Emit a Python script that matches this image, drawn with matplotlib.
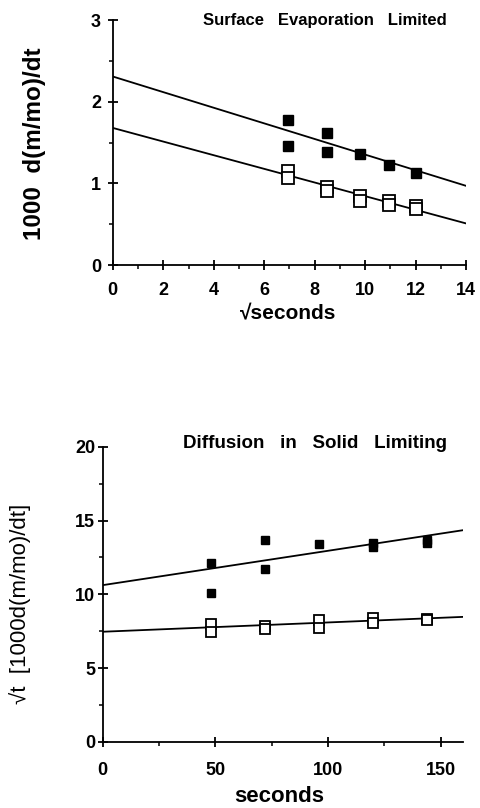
import numpy as np
import matplotlib.pyplot as plt
from matplotlib.ticker import MultipleLocator

plt.rcParams['font.family'] = ['Liberation Sans', 'DejaVu Sans']

# surface evaporation data, plotted against sqrt(seconds)
sqrt_t_filled = [6.93, 6.93, 8.49, 8.49, 9.80, 10.95, 12.0]
rate_filled = [1.78, 1.46, 1.62, 1.38, 1.36, 1.23, 1.13]
sqrt_t_open = [6.93, 6.93, 8.49, 8.49, 9.80, 9.80, 10.95, 10.95, 12.0, 12.0]
rate_open = [1.15, 1.07, 0.95, 0.91, 0.85, 0.79, 0.79, 0.74, 0.72, 0.69]
surf_fits = [(2.31, -0.0957), (1.68, -0.0836)]  # (intercept, slope)

# diffusion data, plotted against seconds
t_filled = [48, 48, 72, 72, 96, 120, 120, 144, 144]
diff_filled = [12.1, 10.1, 13.65, 11.7, 13.4, 13.45, 13.2, 13.7, 13.5]
t_open = [48, 48, 72, 72, 96, 96, 120, 120, 144, 144]
diff_open = [8.0, 7.45, 7.85, 7.62, 8.25, 7.7, 8.36, 8.05, 8.34, 8.25]
diff_fits = [(10.62, 0.0233), (7.46, 0.0063)]

fig = plt.figure(figsize=(4.8, 8.08), dpi=100)
ax1 = fig.add_axes([0.235, 0.672, 0.736, 0.303])
ax2 = fig.add_axes([0.214, 0.082, 0.751, 0.365])


def style_axes(ax, xpad, ypad):
    for s in ('top', 'right'):
        ax.spines[s].set_visible(False)
    for s in ('left', 'bottom'):
        ax.spines[s].set_linewidth(1.3)
    ax.tick_params(which='major', direction='inout', length=7, width=1.3,
                   labelsize=13)
    ax.tick_params(axis='x', which='major', pad=xpad)
    ax.tick_params(axis='y', which='major', pad=ypad)
    ax.tick_params(which='minor', direction='out', length=3, width=1.1)
    for lab in ax.get_xticklabels() + ax.get_yticklabels():
        lab.set_fontweight('bold')


# top panel
xs = np.array([0, 14])
for b, m in surf_fits:
    ax1.plot(xs, b + m * xs, color='black', lw=1.3)
ax1.plot(sqrt_t_filled, rate_filled, 's', color='black', ms=6.5, ls='none')
ax1.plot(sqrt_t_open, rate_open, 's', mfc='white', mec='black', mew=1.3,
         ms=8, ls='none')
ax1.set_xlim(0, 14)
ax1.set_ylim(0, 3)
ax1.xaxis.set_major_locator(MultipleLocator(2))
ax1.xaxis.set_minor_locator(MultipleLocator(1))
ax1.yaxis.set_major_locator(MultipleLocator(1))
ax1.yaxis.set_minor_locator(MultipleLocator(0.5))
style_axes(ax1, xpad=9, ypad=5)
ax1.set_xlabel('√seconds', fontsize=15, fontweight='bold')
ax1.xaxis.set_label_coords(0.496, -0.16)
ax1.set_ylabel('1000  d(m/mo)/dt', fontsize=17.5, fontweight='bold')
ax1.yaxis.set_label_coords(-0.19, 0.496)
ax1.text(0.945, 1.0, 'Surface   Evaporation   Limited', transform=ax1.transAxes,
         ha='right', va='center', fontsize=12, fontweight='bold')

# bottom panel
ts = np.array([0, 160])
for b, m in diff_fits:
    ax2.plot(ts, b + m * ts, color='black', lw=1.3)
ax2.plot(t_filled, diff_filled, 's', color='black', ms=6, ls='none')
ax2.plot(t_open, diff_open, 's', mfc='white', mec='black', mew=1.3,
         ms=7.5, ls='none')
ax2.set_xlim(0, 160)
ax2.set_ylim(0, 20)
ax2.xaxis.set_major_locator(MultipleLocator(50))
ax2.xaxis.set_minor_locator(MultipleLocator(25))
ax2.yaxis.set_major_locator(MultipleLocator(5))
ax2.yaxis.set_minor_locator(MultipleLocator(2.5))
style_axes(ax2, xpad=11, ypad=2)
ax2.set_xlabel('seconds', fontsize=16, fontweight='bold')
ax2.xaxis.set_label_coords(0.49, -0.15)
ax2.set_ylabel('√t  [1000d(m/mo)/dt]', fontsize=16)
ax2.yaxis.set_label_coords(-0.2, 0.468)
ax2.text(0.955, 1.01, 'Diffusion   in   Solid   Limiting', transform=ax2.transAxes,
         ha='right', va='center', fontsize=13.5, fontweight='bold')

fig.savefig('out.png', dpi=100)
